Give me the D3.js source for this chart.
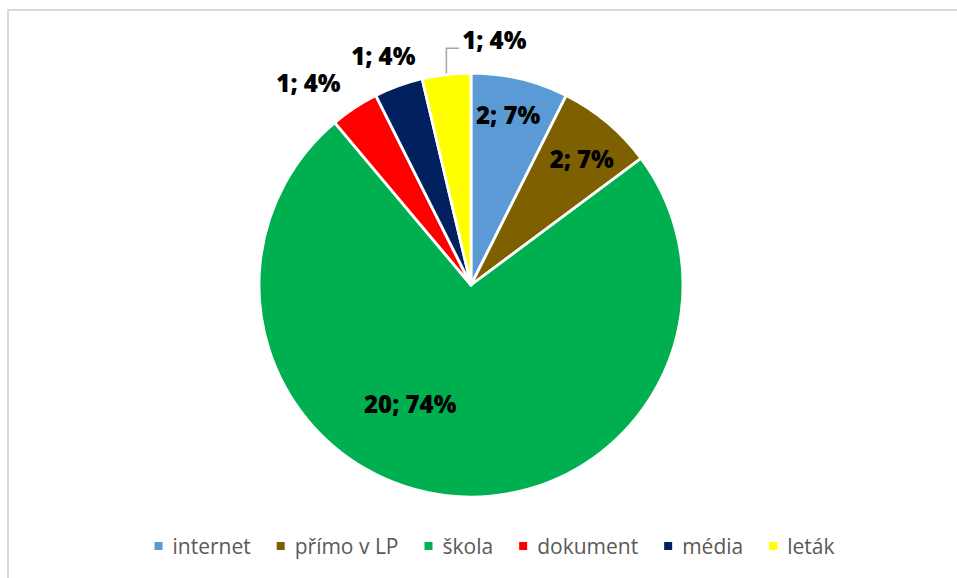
<!DOCTYPE html>
<html>
<head>
<meta charset="utf-8">
<script src="https://cdn.jsdelivr.net/npm/d3@7/dist/d3.min.js"></script>
<style>
  body { margin: 0; background: #fff; }
  svg { display: block; }
  .label { font-family: "Open Sans", sans-serif; font-weight: 800; font-size: 24px; fill: #000; }
  .legend text { font-family: "Open Sans", sans-serif; font-size: 21px; fill: #595959; }
</style>
</head>
<body>
<svg width="957" height="578"></svg>
<script>
// data
var categories = ["internet", "přímo v LP", "škola", "dokument", "média", "leták"];
var counts = [2, 2, 20, 1, 1, 1];
var percentLabels = ["7%", "7%", "74%", "4%", "4%", "4%"];
var colors = ["#5B9BD5", "#7F6000", "#00B050", "#FF0000", "#002060", "#FFFF00"];

// where each data label sits: radius as a share of the pie radius, angle shift in degrees
var labelRadius = [0.82, 0.79, 0.63, 1.22, 1.155, 1.16];
var labelShift = [-1, 1.4, 20.4, -5.6, -1, 12.1];
var leaderFor = [false, false, false, false, false, true];

var svg = d3.select("svg"),
    W = +svg.attr("width"),
    H = +svg.attr("height");

// chart border (right and bottom run off the page)
svg.append("rect")
  .attr("x", 8).attr("y", 10)
  .attr("width", W + 20).attr("height", H + 20)
  .attr("fill", "none")
  .attr("stroke", "#d9d9d9")
  .attr("stroke-width", 2);

var cx = 471, cy = 285, R = 212;
var g = svg.append("g").attr("transform", "translate(" + cx + "," + cy + ")");

var pie = d3.pie().sort(null).value(function(d) { return d; });
var arcs = pie(counts);
var arc = d3.arc().innerRadius(0).outerRadius(R);

g.selectAll("path.slice")
  .data(arcs)
  .enter().append("path")
  .attr("class", "slice")
  .attr("d", arc)
  .attr("fill", function(d, i) { return colors[i]; })
  .attr("stroke", "#fff")
  .attr("stroke-width", 2.8)
  .attr("stroke-linejoin", "round");

function polar(a, r) {
  return [Math.sin(a) * r, -Math.cos(a) * r];
}

arcs.forEach(function(d, i) {
  var mid = (d.startAngle + d.endAngle) / 2;
  var a = mid + labelShift[i] * Math.PI / 180;
  var p = polar(a, R * labelRadius[i]);
  var t = g.append("text")
    .attr("class", "label")
    .attr("x", p[0]).attr("y", p[1])
    .attr("dy", "0.36em")
    .attr("text-anchor", "middle")
    .text(counts[i] + "; " + percentLabels[i]);

  if (leaderFor[i]) {
    var w = t.node().getComputedTextLength();
    var s = polar(mid, R);
    var ey = p[1] + 8;
    var ex = p[0] - w / 2 - 3;
    g.append("path")
      .attr("d", "M" + s[0] + "," + (s[1] - 1) + "L" + s[0] + "," + ey + "L" + ex + "," + ey)
      .attr("fill", "none")
      .attr("stroke", "#a6a6a6")
      .attr("stroke-width", 1.5);
  }
});

// legend
var legend = svg.append("g").attr("class", "legend");
var sq = 8, textGap = 10, itemGap = 26, ly = 554;
var items = legend.selectAll("g")
  .data(categories)
  .enter().append("g");
items.append("rect")
  .attr("width", sq).attr("height", sq)
  .attr("y", ly - 12)
  .attr("fill", function(d, i) { return colors[i]; });
items.append("text")
  .attr("x", sq + textGap)
  .attr("y", ly)
  .text(function(d) { return d; });

var xpos = 0, starts = [];
items.each(function() {
  starts.push(xpos);
  var tw = d3.select(this).select("text").node().getComputedTextLength();
  xpos += sq + textGap + tw + itemGap;
});
var total = xpos - itemGap;
var x0 = 494.5 - total / 2;
items.attr("transform", function(d, i) { return "translate(" + (x0 + starts[i]) + ",0)"; });
</script>
</body>
</html>
